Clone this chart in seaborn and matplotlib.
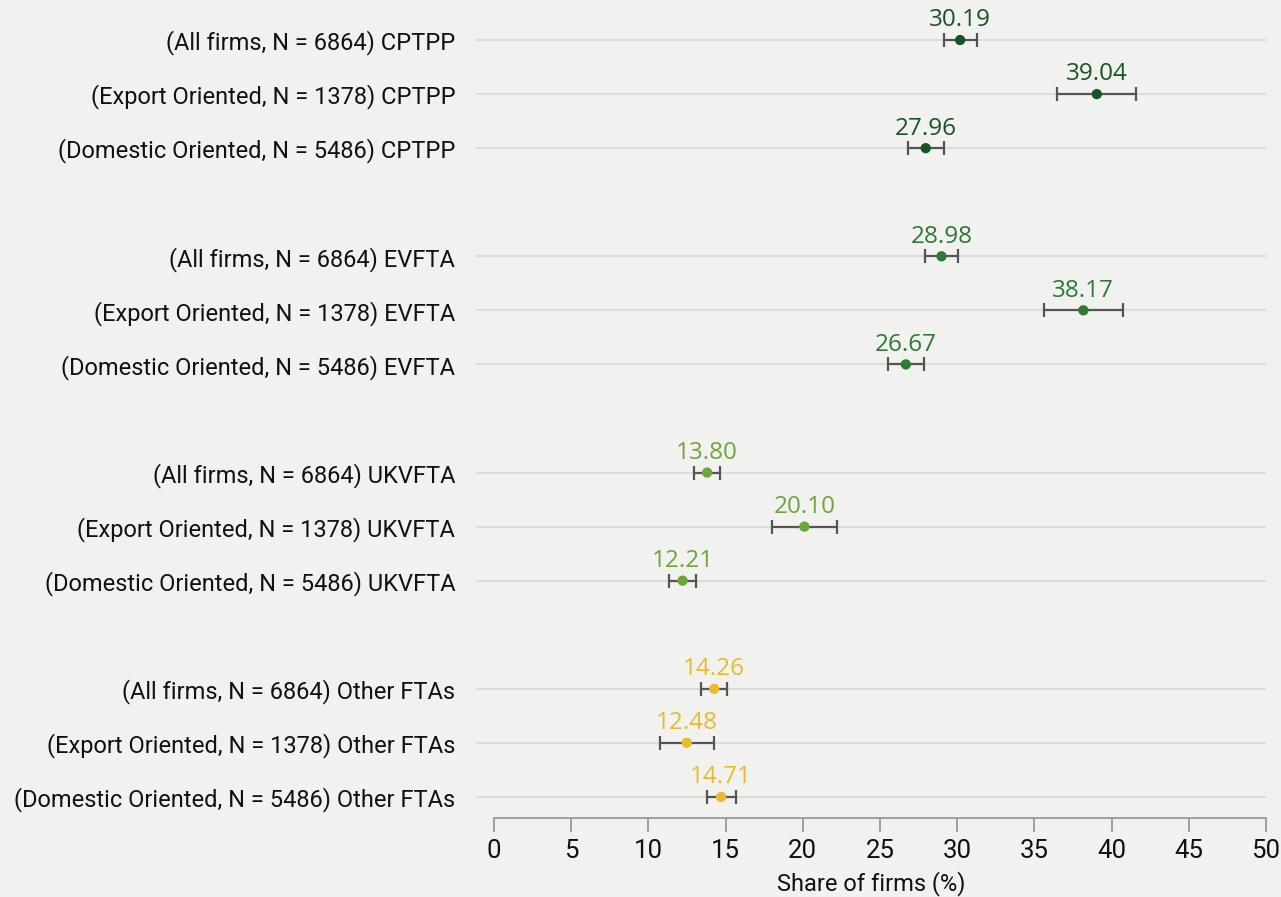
import matplotlib
matplotlib.use("Agg")
import matplotlib.pyplot as plt
import seaborn as sns
import pandas as pd
import numpy as np

agreements = ["CPTPP", "EVFTA", "UKVFTA", "Other FTAs"]
groups = ["All firms, N = 6864", "Export Oriented, N = 1378", "Domestic Oriented, N = 5486"]
cptpp = [30.19, 39.04, 27.96]
evfta = [28.98, 38.17, 26.67]
ukvfta = [13.80, 20.10, 12.21]
other = [14.26, 12.48, 14.71]
cptpp_err = [1.07, 2.56, 1.18]
evfta_err = [1.08, 2.55, 1.17]
ukvfta_err = [0.83, 2.12, 0.88]
other_err = [0.85, 1.75, 0.95]
colors = ["#1b5424", "#2f7a33", "#6ea53d", "#e8bb2a"]
xticks = [0, 5, 10, 15, 20, 25, 30, 35, 40, 45, 50]
xlabel = "Share of firms (%)"

values = [cptpp, evfta, ukvfta, other]
errors = [cptpp_err, evfta_err, ukvfta_err, other_err]

rows = []
for g, ag in enumerate(agreements):
    for i, grp in enumerate(groups):
        rows.append(dict(label=f"({grp}) {ag}", value=values[g][i], err=errors[g][i],
                         agreement=ag, pos=g * 4 + i))
df = pd.DataFrame(rows)

sns.set_theme(style="white")
label_font = ["Roboto", "DejaVu Sans"]
plt.rcParams["font.family"] = label_font

bg = "#f1f1ef"
fig = plt.figure(figsize=(12.81, 8.97), dpi=100, facecolor=bg)
ax = fig.add_axes([476 / 1281, 79 / 897, (1266 - 476) / 1281, 1 - 79 / 897 - 7.6 / 897])
ax.set_facecolor(bg)

for p in df["pos"]:
    ax.axhline(p, color="#dcdcda", lw=1.5, zorder=0)

ax.errorbar(df["value"], df["pos"], xerr=df["err"], fmt="none", ecolor="#555555",
            elinewidth=1.6, capsize=5, capthick=1.6, zorder=2)
sns.scatterplot(data=df, x="value", y="pos", hue="agreement", palette=colors,
                hue_order=agreements, s=55, edgecolor="none", legend=False, ax=ax, zorder=3)

for _, r in df.iterrows():
    c = colors[agreements.index(r["agreement"])]
    ax.annotate(f"{r['value']:.2f}", (r["value"], r["pos"]), xytext=(0, 5.5),
                textcoords="offset points", ha="center", va="bottom", color=c,
                fontsize=17.5, family=["Open Sans", "DejaVu Sans"])

ax.set_xlim(-1.17, 50)
ax.set_ylim(14.39, -0.6)
ax.set_xticks(xticks)
ax.set_xticklabels([str(t) for t in xticks], fontsize=18.5)
ax.set_yticks(df["pos"])
ax.set_yticklabels(df["label"], fontsize=17)
ax.tick_params(axis="y", left=False, length=0, pad=15, colors="#111111")
ax.tick_params(axis="x", bottom=True, direction="out", length=10, width=1.3,
               color="#999999", pad=5, labelcolor="#111111")
ax.set_xlabel(xlabel, fontsize=17, color="#111111", labelpad=6)
ax.set_ylabel("")
for s in ["top", "right", "left"]:
    ax.spines[s].set_visible(False)
ax.spines["bottom"].set_color("#999999")
ax.spines["bottom"].set_linewidth(1.3)
ax.spines["bottom"].set_bounds(0, 50)

fig.savefig("out.png", dpi=100, facecolor=bg)
